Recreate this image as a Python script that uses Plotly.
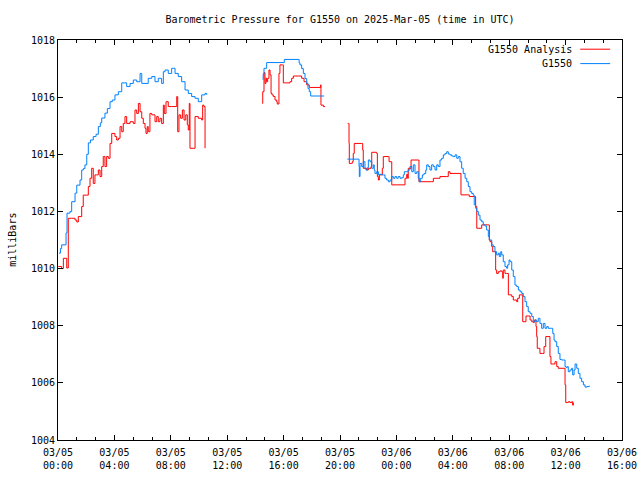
import datetime as dt
import plotly.graph_objects as go

# ---------------- data (hours after 2025-03-05 00:00 UTC, pressure in mb) -------------
start = dt.datetime(2025, 3, 5, 0, 0)

blue_hours = [
    0.07, 0.17, 0.26, 0.57, 0.64, 0.85, 0.97, 1.21, 1.33, 1.56, 1.68, 1.80, 1.91, 2.04, 2.15,
    2.30, 2.50, 2.70, 2.86, 3.00, 3.10, 3.33, 3.50, 3.69, 3.85, 4.04, 4.28, 4.52, 4.75, 4.87,
    5.11, 5.34, 5.58, 5.82, 5.94, 6.17, 6.40, 6.65, 6.88, 7.11, 7.35, 7.47, 7.59, 7.82, 8.06,
    8.18, 8.30, 8.53, 8.77, 9.01, 9.24, 9.48, 9.72, 9.95, 10.19, 10.43, 10.55,
    None,
    14.52, 14.55, 14.61, 14.80, 16.05, 17.04, 17.10, 17.16, 17.28, 17.40, 17.52, 17.64, 17.73,
    17.82, 17.92, 18.87,
    None,
    20.52, 21.30, 21.35, 21.37, 21.42, 21.54, 21.65, 21.77, 21.84, 21.94, 22.01, 22.13, 22.25,
    22.36, 22.43, 22.48, 22.60, 22.72, 22.84, 22.96, 23.07, 23.19, 23.31, 23.43, 23.55, 23.67,
    23.78, 23.90, 24.02, 24.13, 24.26, 24.38, 24.49, 24.56, 24.73, 24.84, 24.96, 25.09, 25.20,
    25.32, 25.44, 25.55, 25.62, 25.72, 25.84, 25.96, 26.08, 26.15, 26.26, 26.38, 26.50, 26.62,
    26.74, 26.86, 26.97, 27.09, 27.21, 27.33, 27.45, 27.57, 27.68, 27.80, 27.92, 28.04, 28.16,
    28.28, 28.39, 28.51, 28.63, 28.74, 28.87, 28.99, 29.10, 29.22, 29.34, 29.45, 29.52, 29.62,
    29.70, 29.81, 29.93, 30.05, 30.16, 30.28, 30.40, 30.52, 30.59, 30.76, 30.87, 30.99, 31.11,
    31.23, 31.30, 31.40, 31.47, 31.58, 31.70, 31.82, 31.89, 31.99, 32.06, 32.18, 32.29, 32.41,
    32.53, 32.65, 32.77, 32.89, 33.00, 33.12, 33.24, 33.35, 33.48, 33.60, 33.71, 33.83, 33.95,
    34.06, 34.18, 34.30, 34.42, 34.54, 34.66, 34.77, 35.01, 35.09, 35.18, 35.25, 35.37, 35.48,
    35.60, 35.72, 35.84, 35.96, 36.03, 36.12, 36.19, 36.31, 36.43, 36.50, 36.60, 36.67, 36.79,
    36.90, 37.02, 37.14, 37.26, 37.38, 37.50, 37.68,
]
blue_values = [
    1010.54, 1010.70, 1010.83, 1011.25, 1011.94, 1012.00, 1012.34, 1012.64, 1012.92, 1013.10,
    1013.45, 1013.50, 1013.63, 1014.00, 1014.40, 1014.50, 1014.62, 1014.70, 1014.97, 1015.10,
    1015.27, 1015.44, 1015.60, 1015.84, 1015.90, 1016.08, 1016.19, 1016.50, 1016.50, 1016.37,
    1016.48, 1016.60, 1016.54, 1016.83, 1016.48, 1016.48, 1016.66, 1016.72, 1016.54, 1016.66,
    1016.48, 1016.89, 1016.95, 1016.83, 1017.01, 1017.01, 1016.83, 1016.72, 1016.54, 1016.25,
    1016.13, 1016.02, 1015.96, 1015.84, 1016.08, 1016.13, 1016.08,
    None,
    1016.62, 1016.80, 1017.01, 1017.21, 1017.32, 1017.32, 1017.20, 1017.13, 1017.00, 1016.83,
    1016.65, 1016.48, 1016.30, 1016.19, 1016.04, 1016.04,
    None,
    1013.83, 1013.83, 1013.57, 1013.22, 1013.68, 1013.57, 1013.74, 1013.51, 1013.45, 1013.53,
    1013.80, 1013.74, 1013.51, 1013.63, 1013.45, 1013.33, 1013.39, 1013.28, 1013.30, 1013.28,
    1013.28, 1013.16, 1013.10, 1013.04, 1013.10, 1013.22, 1013.16, 1013.22, 1013.16, 1013.22,
    1013.16, 1013.18, 1013.28, 1013.39, 1013.39, 1013.45, 1013.57, 1013.39, 1013.63, 1013.33,
    1013.39, 1013.16, 1013.04, 1013.16, 1013.28, 1013.33, 1013.45, 1013.63, 1013.57, 1013.45,
    1013.63, 1013.57, 1013.45, 1013.63, 1013.57, 1013.80, 1013.86, 1013.98, 1014.03, 1014.09,
    1014.01, 1013.98, 1013.94, 1013.92, 1013.98, 1013.86, 1013.92, 1013.74, 1013.51, 1013.33,
    1013.16, 1013.04, 1012.87, 1012.69, 1012.63, 1012.57, 1012.23, 1012.11, 1012.00, 1011.87,
    1011.70, 1011.64, 1011.53, 1011.49, 1011.35, 1011.12, 1011.00, 1010.83, 1010.77, 1010.59,
    1010.48, 1010.54, 1010.42, 1010.59, 1010.48, 1010.24, 1010.07, 1010.01, 1010.13, 1010.30,
    1010.24, 1009.95, 1009.72, 1009.42, 1009.37, 1009.25, 1009.19, 1009.13, 1009.02, 1008.84,
    1008.67, 1008.49, 1008.43, 1008.32, 1008.14, 1008.20, 1008.14, 1008.26, 1008.08, 1007.91,
    1008.08, 1007.91, 1007.97, 1007.91, 1007.91, 1007.73, 1007.50, 1007.44, 1007.27, 1007.03,
    1006.82, 1006.80, 1006.80, 1006.57, 1006.54, 1006.57, 1006.39, 1006.45, 1006.51, 1006.28,
    1006.45, 1006.66, 1006.51, 1006.33, 1006.16, 1006.04, 1005.93, 1005.85, 1005.87, 1005.90,
]

red_hours = [
    0.02, 0.26, 0.38, 0.62, 0.73, 0.97, 1.21, 1.33, 1.44, 1.68, 1.79, 2.04, 2.15, 2.27, 2.39,
    2.50, 2.62, 2.74, 2.86, 2.98, 3.10, 3.21, 3.33, 3.45, 3.57, 3.69, 3.81, 4.04, 4.16, 4.28,
    4.40, 4.52, 4.63, 4.75, 4.87, 5.11, 5.34, 5.46, 5.58, 5.70, 5.82, 5.94, 6.05, 6.17, 6.24,
    6.33, 6.40, 6.52, 6.65, 6.88, 7.00, 7.11, 7.23, 7.35, 7.47, 7.54, 7.66, 7.82, 8.06, 8.30,
    8.42, 8.49, 8.58, 8.70, 8.82, 8.94, 9.06, 9.17, 9.24, 9.31, 9.36, 9.60, 9.72, 9.95, 10.19,
    10.26, 10.35, 10.43,
    None,
    14.49, 14.52, 14.61, 14.68, 14.75, 14.80, 14.87, 14.96, 15.04, 15.11, 15.18, 15.27, 15.39,
    15.51, 15.55, 15.67, 15.74, 15.91, 15.98, 16.22, 16.45, 16.57, 16.69, 17.04, 17.28, 17.45,
    17.64, 17.82, 18.58, 18.63, 18.65, 18.82, 18.94,
    None,
    20.55, 20.59, 20.64, 20.66, 20.83, 20.87, 20.94, 21.01, 21.54, 21.61, 21.65, 21.89, 22.01,
    22.20, 22.25, 22.60, 22.65, 22.72, 22.79, 23.00, 23.07, 23.43, 23.48, 23.55, 23.67, 24.54,
    24.61, 24.73, 24.80, 24.84, 25.04, 25.55, 25.60, 26.50, 26.62, 26.97, 27.09, 27.57, 27.68,
    27.80, 28.51, 28.58, 29.10, 29.17, 29.57, 29.62, 29.70, 29.81, 30.05, 30.52, 30.59, 30.64,
    30.76, 30.83, 30.99, 31.04, 31.11, 31.23, 31.35, 31.47, 31.54, 31.58, 31.70, 31.82, 31.94,
    32.18, 32.29, 32.41, 32.53, 32.60, 32.72, 32.89, 32.96, 33.12, 33.19, 33.35, 33.48, 33.60,
    33.71, 33.78, 33.90, 33.95, 33.99, 34.18, 34.38, 34.47, 34.59, 34.82, 34.89, 34.96, 35.13,
    35.25, 35.37, 35.48, 35.89, 35.96, 36.01, 36.12, 36.19, 36.31, 36.43, 36.50, 36.55,
]
red_values = [
    1010.07, 1010.00, 1010.36, 1010.02, 1011.76, 1011.76, 1011.70, 1011.63, 1011.82, 1012.17,
    1012.57, 1012.57, 1012.87, 1013.16, 1013.51, 1012.98, 1013.28, 1013.28, 1013.45, 1013.22,
    1013.57, 1013.92, 1013.57, 1013.92, 1013.86, 1014.38, 1014.73, 1014.62, 1014.50, 1014.56,
    1014.97, 1014.79, 1015.08, 1015.32, 1015.08, 1015.14, 1015.08, 1015.55, 1015.43, 1015.78,
    1015.49, 1015.26, 1015.08, 1014.91, 1014.73, 1014.97, 1014.79, 1015.43, 1015.38, 1015.14,
    1015.32, 1015.14, 1015.26, 1015.08, 1015.72, 1015.43, 1015.84, 1015.67, 1015.67, 1015.67,
    1016.02, 1014.79, 1015.38, 1015.26, 1015.55, 1015.20, 1015.38, 1015.03, 1014.85, 1015.78,
    1014.21, 1014.21, 1015.32, 1015.26, 1015.20, 1015.72, 1015.67, 1014.21,
    None,
    1015.78, 1016.19, 1016.86, 1016.48, 1016.66, 1016.54, 1016.66, 1016.95, 1016.78, 1016.13,
    1016.08, 1016.02, 1015.90, 1015.84, 1015.76, 1016.83, 1017.13, 1017.13, 1016.50, 1016.50,
    1016.54, 1016.66, 1016.74, 1016.74, 1016.66, 1016.54, 1016.43, 1016.34, 1016.34, 1016.43,
    1015.72, 1015.67, 1015.67,
    None,
    1015.08, 1015.08, 1014.38, 1013.68, 1013.68, 1013.74, 1014.03, 1014.38, 1014.38, 1014.15,
    1013.51, 1013.45, 1013.51, 1013.57, 1014.07, 1014.03, 1013.22, 1013.10, 1013.28, 1013.51,
    1013.92, 1013.92, 1013.74, 1013.74, 1012.93, 1012.93, 1013.16, 1013.30, 1013.16, 1013.51,
    1013.80, 1013.80, 1013.04, 1013.04, 1013.16, 1013.16, 1013.22, 1013.22, 1013.39, 1013.33,
    1013.33, 1012.58, 1012.58, 1012.52, 1012.52, 1012.17, 1011.41, 1011.41, 1011.53, 1011.53,
    1011.00, 1010.94, 1010.77, 1010.59, 1010.59, 1009.95, 1009.83, 1009.89, 1009.92, 1009.89,
    1009.66, 1009.95, 1009.83, 1009.83, 1009.08, 1009.02, 1008.90, 1008.90, 1008.84, 1008.96,
    1009.08, 1009.08, 1008.14, 1008.14, 1008.34, 1008.34, 1008.20, 1008.14, 1008.11, 1008.20,
    1007.97, 1007.62, 1007.21, 1007.03, 1007.03, 1007.27, 1007.62, 1007.62, 1006.92, 1006.66,
    1006.66, 1006.74, 1006.57, 1006.51, 1006.51, 1005.93, 1005.31, 1005.31, 1005.34, 1005.31,
    1005.34, 1005.22, 1005.31,
]

series_names = ["G1550 Analysis", "G1550"]
series_colors = ["#ff0000", "#0080ff"]
y_ticks = [1004, 1006, 1008, 1010, 1012, 1014, 1016, 1018]
title_text = "Barometric Pressure for G1550 on 2025-Mar-05 (time in UTC)"
y_title = "milliBars"


def to_time(hours):
    return [start + dt.timedelta(hours=h) if h is not None else None for h in hours]


FONT = "DejaVu Sans Mono"

fig = go.Figure()
fig.add_trace(go.Scatter(x=to_time(red_hours), y=red_values, mode="lines",
                         line=dict(color=series_colors[0], width=1, shape="hv"),
                         name=series_names[0], connectgaps=False, showlegend=False))
fig.add_trace(go.Scatter(x=to_time(blue_hours), y=blue_values, mode="lines",
                         line=dict(color=series_colors[1], width=1, shape="hv"),
                         name=series_names[1], connectgaps=False, showlegend=False))

# gnuplot-style legend: text right aligned, sample line on the right
for i, (nm, col) in enumerate(zip(series_names, series_colors)):
    yp = 0.977 - i * 0.036
    fig.add_annotation(x=0.915, y=yp, xref="paper", yref="paper", text=nm,
                       showarrow=False, xanchor="right", yanchor="middle",
                       font=dict(family=FONT, size=10, color="black"))
    fig.add_shape(type="line", xref="paper", yref="paper", x0=0.926, x1=0.979,
                  y0=yp, y1=yp, line=dict(color=col, width=1))

fig.add_annotation(x=-0.082, y=0.5, xref="paper", yref="paper", text=y_title,
                   textangle=-90, showarrow=False, xanchor="center", yanchor="middle",
                   font=dict(family=FONT, size=10, color="black"))

fig.update_layout(
    width=640, height=480,
    margin=dict(l=58, r=18, t=40, b=40, autoexpand=False),
    paper_bgcolor="white", plot_bgcolor="white",
    font=dict(family=FONT, size=10, color="black"),
    title=dict(text=title_text, x=0.5, xref="paper", y=1 - 19 / 480, yref="container",
               xanchor="center", yanchor="middle",
               font=dict(family=FONT, size=10, color="black")),
    showlegend=False,
)
fig.update_xaxes(
    type="date", automargin=False,
    range=[start, start + dt.timedelta(hours=40)],
    dtick=4 * 3600 * 1000, tick0=start,
    tickformat="%m/%d<br>%H:%M",
    ticks="inside", ticklen=5, tickcolor="black", tickwidth=1,
    minor=dict(dtick=80 * 60 * 1000, tick0=start, ticks="inside", ticklen=3,
               tickcolor="black", showgrid=False),
    showline=True, linecolor="black", linewidth=1, mirror="ticks",
    showgrid=False, zeroline=False, ticklabelstandoff=3,
    tickfont=dict(family=FONT, size=10, color="black"),
)
fig.update_yaxes(
    automargin=False,
    range=[1004, 1018], tickvals=y_ticks, ticktext=[str(v) for v in y_ticks],
    ticks="inside", ticklen=5, tickcolor="black", tickwidth=1,
    showline=True, linecolor="black", linewidth=1, mirror="ticks",
    showgrid=False, zeroline=False,
    tickfont=dict(family=FONT, size=10, color="black"),
)

fig.write_html("out.html")
